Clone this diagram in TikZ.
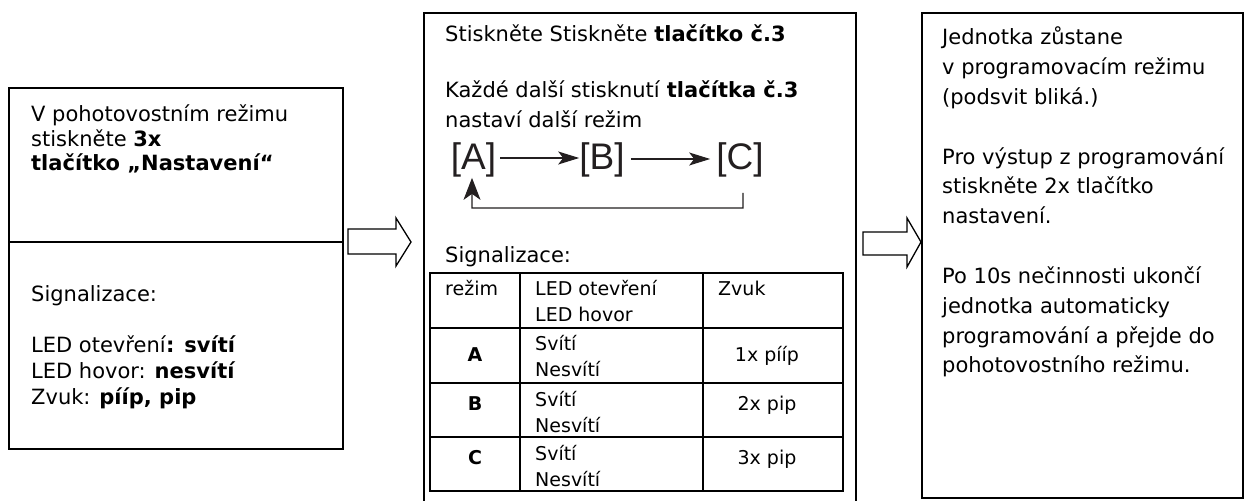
\documentclass[tikz,border=0pt]{standalone}
\usepackage{fontspec}
\setmainfont{DejaVu Sans}
\newfontfamily\arialfont{Liberation Sans}
\usetikzlibrary{arrows.meta}
\definecolor{ink}{HTML}{231F20}
\tikzset{
  box/.style={draw=black,line width=1.5bp},
  tbl/.style={draw=black,line width=1.8bp},
  blockarrow/.style={draw=black,line width=1.3bp,fill=white,line join=miter},
  tl/.style={anchor=base west,inner sep=0pt,font=\fontsize{21bp}{25bp}\selectfont},
  tc/.style={anchor=base west,inner sep=0pt,font=\fontsize{19bp}{23bp}\selectfont},
  tm/.style={anchor=base,inner sep=0pt,font=\fontsize{19bp}{23bp}\selectfont},
  mode/.style={anchor=base,inner sep=0pt,text=ink,font=\arialfont\fontsize{37bp}{40bp}\selectfont},
  flow/.style={draw=ink,line width=1.2bp,-{Stealth[length=21bp,width=13bp,inset=5bp]}},
  back/.style={draw=ink,line width=1.2bp,-{Stealth[length=22bp,width=17bp,inset=6bp]}}
}
\begin{document}
\begin{tikzpicture}[x=1bp,y=-1bp]
\useasboundingbox[fill=white] (0,0) rectangle (1245,501);

% ---------- box 1 ----------
\draw[box] (9,88) rectangle (343,449);
\draw[box] (9,242) -- (343,242);
\node[tl] (b1a) at (31,122) {V pohotovostním režimu};
\node[tl] (b1b) at (31,146.5) {stiskněte \textbf{3x}};
\node[tl] (b1c) at (31,171) {\textbf{tlačítko „Nastavení“}};
\node[tl] (b1d) at (31,302) {Signalizace:};
\node[tl] (b1e) at (31,353) {LED otevření\textbf{: svítí}};
\node[tl] (b1f) at (31,379) {LED hovor: \textbf{nesvítí}};
\node[tl] (b1g) at (31,404) {Zvuk: \textbf{pííp, pip}};

% ---------- block arrow 1 ----------
\draw[blockarrow] (348,229) -- (396,229) -- (396,218) -- (411,242) -- (396,266) -- (396,254) -- (348,254) -- cycle;

% ---------- box 2 (open at the bottom) ----------
\draw[box] (424,502) -- (424,13) -- (856,13) -- (856,502);
\node[tl] (b2a) at (445,42) {Stiskněte Stiskněte \textbf{tlačítko č.3}};
\node[tl] (b2b) at (445,98) {Každé další stisknutí \textbf{tlačítka č.3}};
\node[tl] (b2c) at (445,128) {nastaví další režim};

\node[mode] (A) at (473.5,170) {[A]};
\node[mode] (B) at (602,170) {[B]};
\node[mode] (C) at (740,170) {[C]};
\draw[flow] ([xshift=4bp,yshift=12bp]A.base east) -- ([yshift=12bp]B.base west);
\draw[flow] ([xshift=6bp,yshift=11bp]B.base east) -- ([xshift=-6bp,yshift=11bp]C.base west);
\coordinate (fbA) at (472,208);
\draw[back] ([xshift=3bp,yshift=-15bp]C.south) |- (fbA) -- ([xshift=-1.5bp]A.south);

\node[tl] (b2d) at (445,263) {Signalizace:};

% table
\draw[tbl] (430,273) rectangle (843,491);
\draw[tbl] (430,328) -- (843,328);
\draw[tbl] (430,383) -- (843,383);
\draw[tbl] (430,437) -- (843,437);
\draw[tbl] (520,273) -- (520,491);
\draw[tbl] (703,273) -- (703,491);

\node[tc] (h1) at (445,296) {režim};
\node[tc] (h2) at (535,296) {LED otevření};
\node[tc] (h2b) at (535,322) {LED hovor};
\node[tc] (h3) at (718,296) {Zvuk};

\node[tm] (rA) at (475,362) {\textbf{A}};
\node[tc] (rA1) at (535,351) {Svítí};
\node[tc] (rA2) at (535,377) {Nesvítí};
\node[tm] (rA3) at (767,362) {1x pííp};

\node[tm] (rB) at (475,410) {\textbf{B}};
\node[tc] (rB1) at (535,406) {Svítí};
\node[tc] (rB2) at (535,432) {Nesvítí};
\node[tm] (rB3) at (767,410) {2x pip};

\node[tm] (rC) at (475,464) {\textbf{C}};
\node[tc] (rC1) at (535,460) {Svítí};
\node[tc] (rC2) at (535,486) {Nesvítí};
\node[tm] (rC3) at (767,464) {3x pip};

% ---------- block arrow 2 ----------
\draw[blockarrow] (863,232) -- (907,232) -- (907,218) -- (921,242) -- (907,267) -- (907,255) -- (863,255) -- cycle;

% ---------- box 3 ----------
\draw[box] (922,13) rectangle (1243,498);
\node[tl] (b3a) at (942,45) {Jednotka zůstane};
\node[tl] (b3b) at (942,75) {v programovacím režimu};
\node[tl] (b3c) at (942,105) {(podsvit bliká.)};
\node[tl] (b3d) at (942,165) {Pro výstup z programování};
\node[tl] (b3e) at (942,194) {stiskněte 2x tlačítko};
\node[tl] (b3f) at (942,224) {nastavení.};
\node[tl] (b3g) at (942,284) {Po 10s nečinnosti ukončí};
\node[tl] (b3h) at (942,314) {jednotka automaticky};
\node[tl] (b3i) at (942,344) {programování a přejde do};
\node[tl] (b3j) at (942,373) {pohotovostního režimu.};
\end{tikzpicture}
\end{document}
